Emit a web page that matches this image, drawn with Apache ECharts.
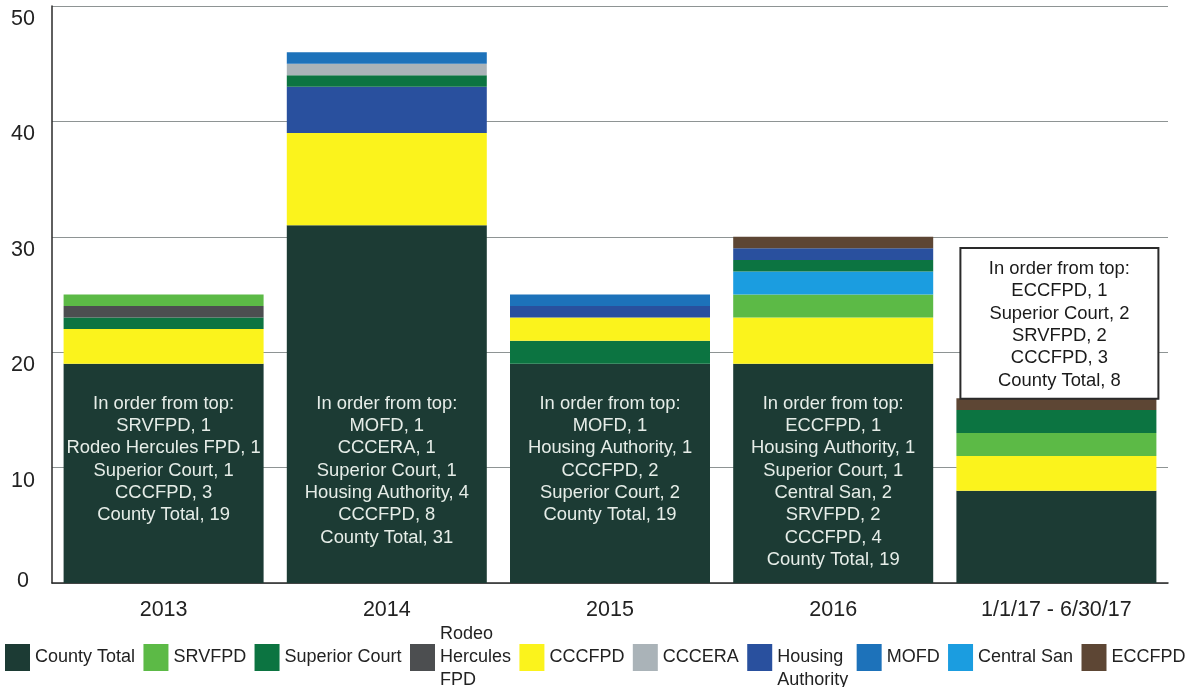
<!DOCTYPE html>
<html>
<head>
<meta charset="utf-8">
<script src="https://cdn.jsdelivr.net/npm/echarts@6/dist/echarts.min.js"></script>
<style>
html,body{margin:0;padding:0;background:#fff;}
#chart{width:1194px;height:687px;}
</style>
</head>
<body>
<div id="chart"></div>
<script>
// ---- data ----
const categories = ['2013', '2014', '2015', '2016', '1/1/17 - 6/30/17'];
const seriesNames = ['County Total', 'SRVFPD', 'Superior Court', 'Rodeo Hercules FPD', 'CCCFPD',
  'CCCERA', 'Housing Authority', 'MOFD', 'Central San', 'ECCFPD'];
const countyTotal      = [19, 31, 19, 19, 8];
const srvfpd           = [1, 0, 0, 2, 2];
const superiorCourt    = [1, 1, 2, 1, 2];
const rodeoHercules    = [1, 0, 0, 0, 0];
const cccfpd           = [3, 8, 2, 4, 3];
const cccera           = [0, 1, 0, 0, 0];
const housingAuthority = [0, 4, 1, 1, 0];
const mofd             = [0, 1, 1, 0, 0];
const centralSan       = [0, 0, 0, 2, 0];
const eccfpd           = [0, 0, 0, 1, 1];
// stacking order, bottom to top, per category
const order2013 = ['County Total', 'CCCFPD', 'Superior Court', 'Rodeo Hercules FPD', 'SRVFPD'];
const order2014 = ['County Total', 'CCCFPD', 'Housing Authority', 'Superior Court', 'CCCERA', 'MOFD'];
const order2015 = ['County Total', 'Superior Court', 'CCCFPD', 'Housing Authority', 'MOFD'];
const order2016 = ['County Total', 'CCCFPD', 'SRVFPD', 'Central San', 'Superior Court', 'Housing Authority', 'ECCFPD'];
const order2017 = ['County Total', 'CCCFPD', 'SRVFPD', 'Superior Court', 'ECCFPD'];
const yTicks = [0, 10, 20, 30, 40, 50];

// ---- styling ----
const FONT = 'Liberation Sans, Arial, sans-serif';
const colors = {
  'County Total': '#1c3b34',
  'SRVFPD': '#5cba46',
  'Superior Court': '#0c7441',
  'Rodeo Hercules FPD': '#4c4e50',
  'CCCFPD': '#fbf31c',
  'CCCERA': '#aab3b8',
  'Housing Authority': '#29509e',
  'MOFD': '#1d72ba',
  'Central San': '#1b9de0',
  'ECCFPD': '#5d4634'
};
const legendLabels = {
  'Rodeo Hercules FPD': 'Rodeo\nHercules\nFPD',
  'Housing Authority': ' \nHousing\nAuthority'
};

const valuesByName = {
  'County Total': countyTotal, 'SRVFPD': srvfpd, 'Superior Court': superiorCourt,
  'Rodeo Hercules FPD': rodeoHercules, 'CCCFPD': cccfpd, 'CCCERA': cccera,
  'Housing Authority': housingAuthority, 'MOFD': mofd, 'Central San': centralSan, 'ECCFPD': eccfpd
};
const orders = [order2013, order2014, order2015, order2016, order2017];

// build stack layers so each category keeps its own order
function buildLayers() {
  const ptr = orders.map(() => 0);
  const layers = [];
  while (orders.some((o, i) => ptr[i] < o.length)) {
    const counts = {};
    orders.forEach((o, i) => {
      if (ptr[i] < o.length) { const n = o[ptr[i]]; counts[n] = (counts[n] || 0) + 1; }
    });
    let best = null;
    seriesNames.forEach(n => { if (counts[n] && (best === null || counts[n] > counts[best])) best = n; });
    const data = orders.map((o, i) => {
      if (ptr[i] < o.length && o[ptr[i]] === best) { ptr[i]++; return valuesByName[best][i]; }
      return '-';
    });
    layers.push({ name: best, data });
  }
  return layers;
}

const barSeries = buildLayers().map(l => ({
  name: l.name,
  type: 'bar',
  stack: 'total',
  barWidth: 200,
  data: l.data,
  itemStyle: { color: colors[l.name] },
  emphasis: { disabled: true },
  z: 2
}));

function noteText(i) {
  const lines = ['In order from top:'];
  orders[i].slice().reverse().forEach(n => lines.push(n + ', ' + valuesByName[n][i]));
  return lines.join('\n');
}

// annotations: inside the County bar for first four, boxed above bar for the last
const notesInside = {
  type: 'scatter',
  symbolSize: 0,
  z: 5,
  silent: true,
  itemStyle: { opacity: 1 },
  data: [0, 1, 2, 3].map(i => ({ value: [i, 16.5], note: noteText(i) })),
  label: {
    show: true,
    position: 'inside',
    align: 'center',
    verticalAlign: 'top',
    formatter: p => p.data.note,
    color: '#e6ede8',
    fontFamily: FONT,
    fontSize: 18.4,
    lineHeight: 22.3
  }
};
const notesBox = {
  type: 'scatter',
  symbolSize: 0,
  z: 5,
  silent: true,
  itemStyle: { opacity: 1 },
  data: [4].map(i => ({ value: [i, 28.95], note: noteText(i) })),
  label: {
    show: true,
    position: 'inside',
    align: 'center',
    verticalAlign: 'top',
    offset: [3, 0],
    formatter: p => p.data.note,
    color: '#1a1a1a',
    fontFamily: FONT,
    fontSize: 18.4,
    lineHeight: 22.3,
    width: 176,
    backgroundColor: '#fff',
    borderColor: '#2a2a2a',
    borderWidth: 2,
    padding: [9, 10, 6, 10]
  }
};

const chart = echarts.init(document.getElementById('chart'));
chart.setOption({
  animation: false,
  backgroundColor: '#fff',
  textStyle: { fontFamily: FONT },
  grid: { left: 52, right: 26, top: 6, bottom: 104 },
  legend: {
    data: seriesNames,
    left: 5,
    top: 623,
    padding: 0,
    itemGap: 8.4,
    itemWidth: 25,
    itemHeight: 27,
    icon: 'rect',
    selectedMode: false,
    formatter: n => legendLabels[n] || n,
    textStyle: { fontSize: 18, color: '#222', lineHeight: 23, fontFamily: FONT }
  },
  xAxis: {
    type: 'category',
    data: categories,
    axisLine: { lineStyle: { color: '#2a2a2a', width: 1.5 } },
    axisTick: { show: false },
    axisLabel: { fontSize: 21.5, color: '#222', margin: 16 }
  },
  yAxis: {
    type: 'value',
    min: yTicks[0],
    max: yTicks[yTicks.length - 1],
    interval: yTicks[1] - yTicks[0],
    axisLine: { show: true, lineStyle: { color: '#2a2a2a', width: 1.5 } },
    axisTick: { show: false },
    axisLabel: {
      fontSize: 21.5, color: '#222', align: 'center', margin: 29,
      formatter: v => (v === 0 ? '{z|' + v + '}' : '{n|' + v + '}'),
      rich: {
        z: { fontSize: 21.5, color: '#222', padding: [0, 0, 4, 0] },
        n: { fontSize: 21.5, color: '#222', padding: [26, 0, 0, 0] }
      }
    },
    splitLine: { lineStyle: { color: '#8e9494', width: 1 } }
  },
  series: barSeries.concat([notesInside, notesBox])
});
</script>
</body>
</html>
